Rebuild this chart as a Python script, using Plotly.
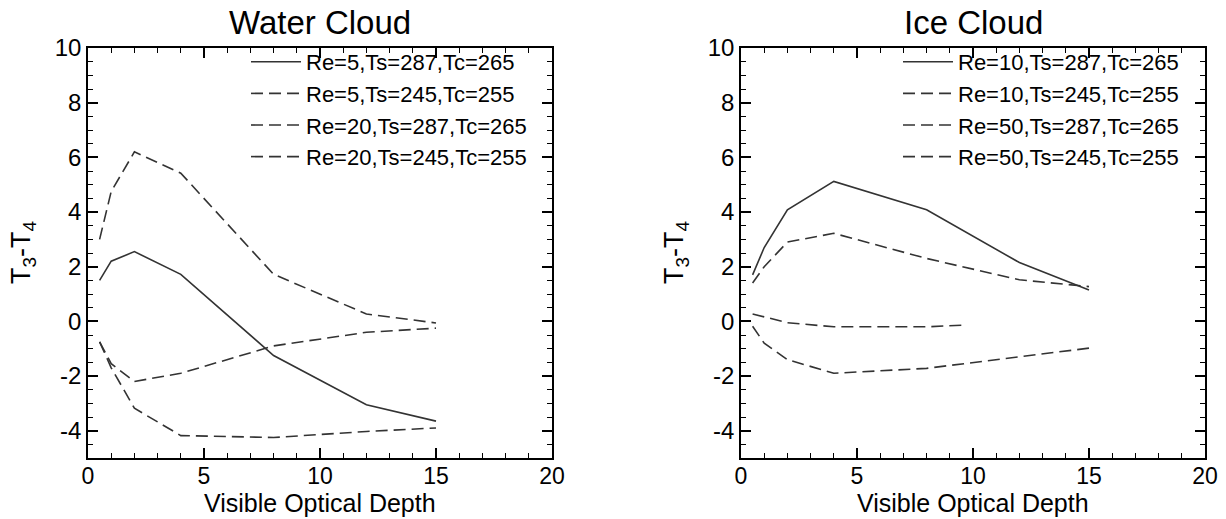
import plotly.graph_objects as go

# ---- data ----
tau = [0.5, 1, 2, 4, 8, 12, 15]

water_labels = ["Re=5,Ts=287,Tc=265", "Re=5,Ts=245,Tc=255",
                "Re=20,Ts=287,Tc=265", "Re=20,Ts=245,Tc=255"]
water_re5_287 = [1.5, 2.2, 2.55, 1.72, -1.25, -3.05, -3.65]
water_re5_245 = [3.0, 4.75, 6.2, 5.42, 1.72, 0.27, -0.06]
water_re20_287 = [-0.75, -1.55, -2.2, -1.9, -0.9, -0.4, -0.25]
water_re20_245 = [-0.75, -1.7, -3.18, -4.18, -4.25, -4.03, -3.9]

ice_labels = ["Re=10,Ts=287,Tc=265", "Re=10,Ts=245,Tc=255",
              "Re=50,Ts=287,Tc=265", "Re=50,Ts=245,Tc=255"]
ice_re10_287 = [1.7, 2.7, 4.08, 5.12, 4.08, 2.15, 1.15]
ice_re10_245 = [1.4, 2.0, 2.9, 3.22, 2.3, 1.52, 1.27]
tau_ice_re50_287 = [0.5, 1, 2, 4, 8, 9.6]
ice_re50_287 = [0.27, 0.17, -0.05, -0.2, -0.2, -0.14]
ice_re50_245 = [-0.18, -0.8, -1.4, -1.9, -1.72, -1.3, -0.98]

titles = ["Water Cloud", "Ice Cloud"]
x_title = "Visible Optical Depth"
y_title = "T<sub>3</sub>-T<sub>4</sub>"
y_tickvals = [-4, -2, 0, 2, 4, 6, 8, 10]
y_ticktext = ["-4", "-2", "0", "2", "4", "6", "8", "10"]
x_tickvals = [0, 5, 10, 15, 20]

FONT = "Liberation Sans, Arial, Helvetica, sans-serif"
LINE_COLOR = "#333333"
DASH = "12px,6px"

fig = go.Figure()

water_series = [(tau, water_re5_287, "solid"), (tau, water_re5_245, DASH),
                (tau, water_re20_287, DASH), (tau, water_re20_245, DASH)]
ice_series = [(tau, ice_re10_287, "solid"), (tau, ice_re10_245, DASH),
              (tau_ice_re50_287, ice_re50_287, DASH), (tau, ice_re50_245, DASH)]

for (xs, ys, dash), name in zip(water_series, water_labels):
    fig.add_trace(go.Scatter(x=xs, y=ys, mode="lines", name=name,
                             line=dict(color=LINE_COLOR, width=1.6, dash=dash),
                             xaxis="x", yaxis="y", legend="legend"))
for (xs, ys, dash), name in zip(ice_series, ice_labels):
    fig.add_trace(go.Scatter(x=xs, y=ys, mode="lines", name=name,
                             line=dict(color=LINE_COLOR, width=1.6, dash=dash),
                             xaxis="x2", yaxis="y2", legend="legend2"))

W, H = 1226, 519
px = lambda v: v / W
py = lambda v: 1 - v / H

dom1 = [px(88), px(552)]
dom2 = [px(741), px(1205)]
ydom = [py(458), py(48)]

def xaxis(domain, anchor):
    return dict(domain=domain, anchor=anchor, range=[0, 20],
                tickmode="array", tickvals=x_tickvals,
                showline=True, linecolor="black", linewidth=1.5, mirror="allticks",
                ticks="inside", ticklen=10, tickwidth=1.5, tickcolor="black",
                minor=dict(dtick=1, tick0=0, ticks="inside", ticklen=5, tickwidth=1.2,
                           tickcolor="black"),
                showgrid=False, zeroline=False, automargin=False,
                ticklabelstandoff=-3,
                tickfont=dict(family=FONT, size=23, color="black"))

def yaxis(domain, anchor):
    return dict(domain=domain, anchor=anchor, range=[-5, 10],
                tickmode="array", tickvals=y_tickvals, ticktext=y_ticktext,
                showline=True, linecolor="black", linewidth=1.5, mirror="allticks",
                ticks="inside", ticklen=10, tickwidth=1.5, tickcolor="black",
                minor=dict(dtick=0.5, tick0=0, ticks="inside", ticklen=5, tickwidth=1.2,
                           tickcolor="black"),
                showgrid=False, zeroline=False, automargin=False,
                tickfont=dict(family=FONT, size=24, color="black"))

legend_common = dict(font=dict(family=FONT, size=22, color="black"),
                     bgcolor="rgba(0,0,0,0)", borderwidth=0, itemwidth=50,
                     xanchor="left", yanchor="top", tracegroupgap=0)

fig.update_layout(
    width=W, height=H,
    autosize=False,
    margin=dict(l=0, r=0, t=0, b=0, pad=0, autoexpand=False),
    paper_bgcolor="white", plot_bgcolor="white",
    font=dict(family=FONT, color="black"),
    xaxis=xaxis(dom1, "y"), yaxis=yaxis(ydom, "x"),
    xaxis2=xaxis(dom2, "y2"), yaxis2=yaxis(ydom, "x2"),
    legend=dict(x=px(246), y=py(41), **legend_common),
    legend2=dict(x=px(898), y=py(41), **legend_common),
    showlegend=True,
)

annotations = []
for dom, title in zip([dom1, dom2], titles):
    cx = (dom[0] + dom[1]) / 2
    annotations.append(dict(text=title, x=cx, y=py(23), xref="paper", yref="paper",
                            xanchor="center", yanchor="middle", showarrow=False,
                            font=dict(family=FONT, size=33, color="black")))
    annotations.append(dict(text=x_title, x=cx, y=py(518), xref="paper", yref="paper",
                            xanchor="center", yanchor="bottom", showarrow=False,
                            borderpad=0,
                            font=dict(family=FONT, size=25, color="black")))
for xc in [23, 676]:
    annotations.append(dict(text=y_title, x=px(xc), y=py(253), xref="paper", yref="paper",
                            xanchor="center", yanchor="middle", showarrow=False, textangle=-90,
                            font=dict(family=FONT, size=27, color="black")))
fig.update_layout(annotations=annotations)

fig.write_html("out.html")
